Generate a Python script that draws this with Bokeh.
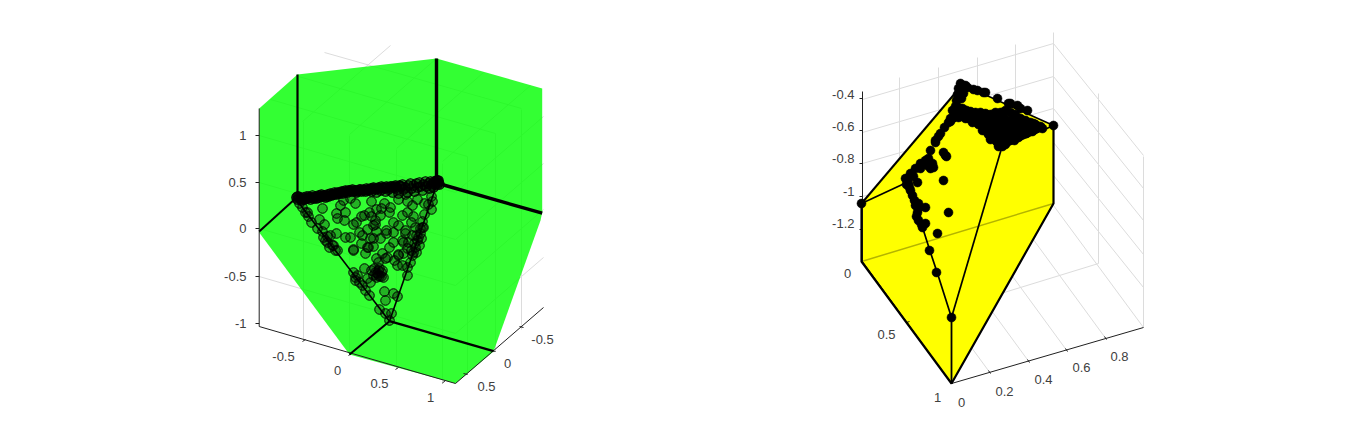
from bokeh.plotting import figure
from bokeh.embed import file_html
from bokeh.resources import INLINE
from bokeh.core.properties import value

# ---------- projected picture data (left panel) ----------
left_shell = [(258.7,108),(297,74),(436,58),(541.7,88),(541.7,212),(540,220),(493,351),(455,383),(349,354),(258.7,232)]
left_ridges = [
    ([(297,74),(297,198)],2.2),([(436,58),(436,182)],3.4),([(438,183),(541.7,212.7)],3.4),
    ([(295,198),(258.7,231)],2),([(389,320.7),(349,354)],2),([(389,320.7),(493,350.7)],2.4),
    ([(295,198),(389,320.7)],1.6),([(437,182),(389,320.7)],1.6),
]
left_points = [
(322,208),(343,200),(350,198),(336,213),(345,212),(337,218),(344,220),(361,216),(364,215),(369,212),(376,209),(381,208),(389,212),(390,207),
(407,201),(405,194),(407,212),(402,215),(417,199),(424,203),(432,201),(431,209),(393,222),(375,220),(373,225),(367,229),(359,232),(376,231),
(386,230),(386,233),(393,232),(405,230),(405,233),(402,240),(412,235),(408,242),(420,228),(423,227),(418,237),(345,237),(350,237),(353,249),
(365,253),(361,243),(370,238),(373,238),(367,247),(373,246),(382,253),(387,257),(393,242),(389,247),(398,254),(403,253),(407,248),(353,224),
(319,219),(324,224),(307,212),(322,231),(330,235),(336,233),(323,237),(327,242),(333,245),(337,250),(335,250),(353,250),(368,247),(375,224),
(403,242),(385,258),(398,255),(378,262),(397,265),(402,265),(407,267),(407,275),(364,268),(353,272),(357,275),(355,280),(362,285),(367,278),
(370,282),(369,295),(378,270),(375,272),(382,270),(373,275),(378,275),(383,277),(377,273),(384,291),(385,300),(393,293),(397,296),(379,309),
(385,313),(391,313),(389,320),(332,245),(417,240),(415,247),(413,252),(412,255),(420,233),(422,227),(410,262),(379,268),(381,276),(374,268),
(299,203),(302,207),(305,212),(308,216),(311,222),(317,228),(431,196),(428,204),(424,214),(422,221),(416,235),(414,243),(411,250),(355,277),(359,282),(365,290),
(340,205),(355,203),(371,201),(384,203),(398,199),(412,205),(371,216),(356,222),(380,215),(398,225),(411,222),(413,216),(380,238),(362,235),(415,227),
(325,240),(329,247),(327,236),(419,245),(421,238),(416,252),(379,276),(381,272),(376,277),(371,270),(394,260),(376,258),
]
left_band = [
(296,197),(297,199),(298,196),(300,198),(301,200),(303,197),(304,199),(306,196),(307,198),(309,197),(310,199),(312,195),(313,198),(315,196),
(316,198),(318,195),(319,197),(321,194),(322,196),(324,195),(325,197),(327,194),(328,196),(330,193),(331,195),(333,194),(334,192),(336,194),
(337,192),(339,193),(341,191),(342,193),(344,192),(345,190),(347,192),(348,190),(350,191),(352,189),(353,191),(355,190),(356,192),(358,190),
(360,189),(361,191),(363,189),(365,191),(366,188),(368,190),(370,188),(371,191),(373,187),(375,189),(376,192),(378,187),(380,190),(381,186),
(383,188),(385,191),(386,186),(388,189),(390,186),(392,192),(393,187),(395,185),(397,189),(398,193),(400,186),(402,184),(403,189),(405,187),
(407,192),(408,185),(410,183),(411,188),(413,185),(414,191),(416,183),(417,187),(419,182),(420,186),(422,190),(423,184),(425,181),(426,186),
(428,183),(429,188),(430,181),(431,185),(432,183),(433,187),(434,181),(435,184),(436,182),(437,180),(437,184),(438,182),
(297,196),(299,197),(302,199),(305,198),(308,196),(311,197),(314,197),(317,197),(320,195),(323,195),(326,196),(329,194),(332,194),(335,193),
(338,193),(340,192),(343,191),(346,191),(349,190),(351,190),(354,190),(357,191),(359,189),(362,190),(364,190),(367,189),(369,189),(372,188),
(374,188),(377,188),(379,188),(382,187),(384,187),(387,187),(389,187),(391,186),(394,186),(396,187),(399,185),(401,186),
(436,180),(438,180),(439,184),
]
left_grid = [
[(258.7,276),(455,333),(543,257)],[(258.7,228),(455,285),(543,209)],[(258.7,182),(455,239),(543,163)],[(258.7,135),(455,192),(543,116)],
[(303,339),(303,121)],[(349,354),(349,135)],[(396,368),(396,149)],[(442,382),(442,163)],[(467,374),(467,156)],[(495,351),(495,133)],[(521,329),(521,109)],
[(302,121),(390,45)],[(349,134),(436,58)],[(396,148),(483,72)],[(442,161),(530,85)],[(324,52),(521,108)],[(298,76),(495,133)],[(270,99),(467,156)],
]
left_axes = [[(258.7,108),(258.7,326),(455,383),(543,307)]]
left_ticks = [
[(255,135),(258.7,135)],[(255,182),(258.7,182)],[(255,228),(258.7,228)],[(255,276),(258.7,276)],[(255,323),(258.7,323)],
[(302,341),(305,339)],[(348,355),(351,353)],[(395,369),(398,367)],[(441.7,382.7),(445,380)],[(467,374),(463,373)],[(495,351),(491,350)],[(523,327),(519,326)],
]
left_labels_z = [("1",135),("0.5",182),("0",228),("-0.5",276),("-1",323)]
left_labels_other = [("-0.5",283,356),("0",337,370),("0.5",379,383),("1",430,397),("-0.5",542,339),("0",507,363),("0.5",486,386)]

# ---------- projected picture data (right panel) ----------
right_shell = [(861,203),(962,84),(1053,125),(1053,203),(951,383),(861,261)]
right_edges = [
    ([(861,203),(861,261),(951,383),(1053,203),(1053,125)],2.2),
    ([(861,203),(962,84)],2),([(962,84),(1053,125)],1.6),
    ([(861,203),(904,183)],1.7),([(1001,148),(951,317)],1.7),([(951,317),(951,383)],1.8),([(1001,148),(1053,125)],1.7),
    ([(904,183),(923,230),(930,252),(937,273),(951,317)],1.7),
]
right_points = [
(935,142),(930,150),(943,152),(946,156),(932,163),(930,168),(933,167),(927,165),(920,163),(915,168),(910,173),(907,178),(917,182),(943,180),
(908,183),(910,190),(912,195),(914,200),(918,203),(925,207),(948,212),(917,212),(918,220),(925,223),(922,227),(937,233),(929,250),(936,272),
(935,140),(940,133),(953,117),(945,155),(958,107),(963,93),(962,85),(967,87),(977,90),(983,92),(997,98),(1010,103),(1020,108),(1033,123),(1037,127),
(960,83),(965,85),(973,89),(985,92),(1008,103),(1017,105),(1027,110),(948,122),(944,127),(938,136),
(958,88),(957,94),(956,100),(955,106),(954,112),(952,118),(950,121),(958,112),(962,108),(966,110),(970,111),(975,112),(980,112),(985,113),(990,114),
(995,112),(1000,112),(1005,110),(1010,112),(1015,114),(1020,118),(1025,120),(1030,122),(1035,124),(1040,126),(960,116),(966,116),(972,117),(978,118),
(984,120),(990,120),(996,119),(1004,118),(1010,120),(1016,122),(1022,125),(1028,127),(1034,129),(972,122),(978,124),(984,126),(990,128),(996,127),
(1008,126),(1014,128),(1020,131),(1026,133),(1032,131),(982,130),(988,134),(994,135),(1000,136),(1006,133),(1012,135),(1018,137),(990,139),(996,141),
(1002,143),(1008,140),(1014,140),(998,146),(1002,146),(1020,135),(861,203),(1053,125),(951,317),
(1000,118),(1006,122),(1012,125),(1018,127),(1024,129),(1030,127),(1036,127),(1042,128),(968,118),(975,120),(981,122),(987,124),(993,123),(999,124),
(1002,128),(1008,132),(1016,132),(1022,131),(986,131),(992,132),(998,131),(1004,139),(1010,137),(1016,134),(993,138),(999,141),(1005,144),
(905,178),(906,184),(909,187),(913,176),(920,168),(925,160),(928,158),(915,205),(916,216),(921,224),(918,208),
(950,118),(958,117),(965,118),(972,120),(978,123),(984,127),(989,132),(994,138),(998,143),(961,98),(952,110),
]
right_grid = [
[(862,99),(1053,43),(1143,155)],[(862,132),(1053,76),(1143,188)],[(862,163),(1053,108),(1143,220)],[(862,196),(1053,142),(1143,254)],[(862,229),(1053,175),(1143,287)],
[(899,77),(899,250)],[(938,67),(938,239)],[(977,57),(977,228)],[(1015,44),(1015,216)],[(1053,32),(1053,205)],[(1098,93),(1098,263)],[(1143,156),(1143,327)],
[(861,261),(1053,205),(1143,327)],[(906,322),(1098,263)],[(990,373),(900,250)],[(1029,362),(939,239)],[(1067,351),(977,228)],[(1106,339),(1016,216)],
]
right_seam = [(861,261),(1053,203)]
right_axes = [[(862,91),(862,261),(951,383),(1143,327)]]
right_ticks = [
[(859,98),(862,98)],[(859,130),(862,130)],[(859,163),(862,163)],[(859,196),(862,196)],[(859,229),(862,229)],
[(990,373),(988,370)],[(1029,362),(1027,359)],[(1067,351),(1065,348)],[(1106,339),(1104,336)],[(906,322),(909,321)],
]
right_labels_z = [("-0.4",94),("-0.6",126),("-0.8",158),("-1",191),("-1.2",223)]
right_labels_other = [("0",961,402),("0.2",1004,391),("0.4",1043,379),("0.6",1081,367),("0.8",1119,356),("1",937,397),("0.5",886,334),("0",847,273)]

GRID = "#dcdcdc"
INK = "#404040"

def xs(pts): return [q[0] for q in pts]
def ys(pts): return [q[1] for q in pts]

p = figure(width=1350, height=416, x_range=(0,1350), y_range=(416,0), toolbar_location=None,
           output_backend="svg", min_border=0, outline_line_color=None)
p.xaxis.visible = False; p.yaxis.visible = False; p.grid.visible = False

for grid in (left_grid, right_grid):
    p.multi_line([xs(g) for g in grid],[ys(g) for g in grid],line_color=GRID,line_width=1)
p.patch(xs(left_shell),ys(left_shell),fill_color="#00ff00",fill_alpha=0.8,line_color=None)
p.patch(xs(right_shell),ys(right_shell),fill_color="#ffff00",line_color=None)
p.line(xs(right_seam),ys(right_seam),line_color="#b4b400",line_width=1.5)

for axes,ticks in ((left_axes,left_ticks),(right_axes,right_ticks)):
    p.multi_line([xs(a) for a in axes],[ys(a) for a in axes],line_color="#202020",line_width=1)
    p.multi_line([xs(t) for t in ticks],[ys(t) for t in ticks],line_color="#202020",line_width=1)

for seg,w in left_ridges+right_edges:
    p.line(xs(seg),ys(seg),line_color="black",line_width=w)

p.scatter(xs(left_points),ys(left_points),size=9.5,fill_color="black",fill_alpha=0.3,line_color="black",line_width=1)
p.scatter(xs(left_band),ys(left_band),size=9.5,fill_color="black",fill_alpha=0.4,line_color="black",line_width=1.1)
p.scatter(xs(right_points),ys(right_points),size=9,fill_color="black",line_color="black",line_width=0.5)

font = value("Liberation Sans")
for labels,right in ((left_labels_z,246),(right_labels_z,854)):
    p.text([right]*len(labels),[l[1] for l in labels],text=[l[0] for l in labels],text_font=font,
           text_font_size="13px",text_color=INK,text_align="right",text_baseline="middle")
for labels in (left_labels_other,right_labels_other):
    p.text([l[1] for l in labels],[l[2] for l in labels],text=[l[0] for l in labels],text_font=font,
           text_font_size="13px",text_color=INK,text_align="center",text_baseline="middle")

open("out.html","w").write(file_html(p,INLINE))
